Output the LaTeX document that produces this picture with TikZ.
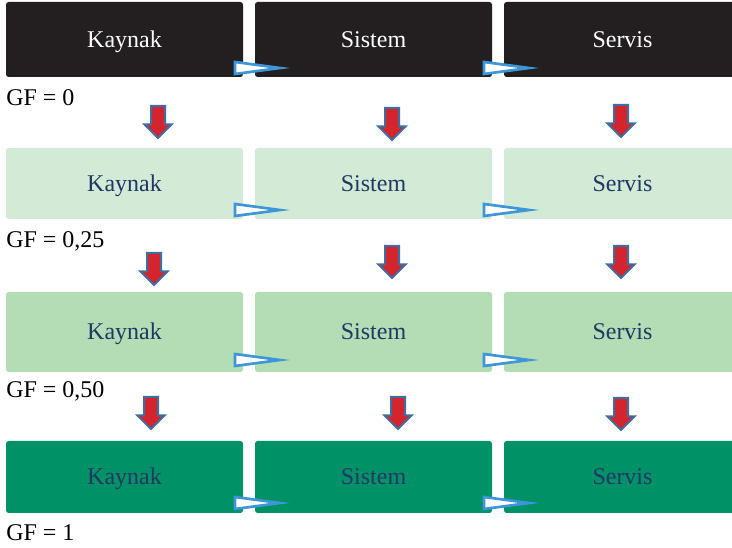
\documentclass[tikz,border=0pt]{standalone}
\usepackage{fontspec}
\setmainfont{Liberation Serif}
\usetikzlibrary{shapes.arrows, positioning}
\definecolor{night}{RGB}{35,31,32}
\definecolor{mint}{RGB}{211,234,214}
\definecolor{sage}{RGB}{181,221,181}
\definecolor{jade}{RGB}{0,145,103}
\definecolor{navy}{RGB}{31,56,100}
\definecolor{sky}{RGB}{60,150,215}
\definecolor{brick}{RGB}{212,36,46}
\definecolor{steel}{RGB}{62,110,160}
\def\txt{\fontsize{18}{21}\selectfont}
\tikzstyle{box} = [rectangle, rounded corners=2pt, inner sep=0pt, outer sep=0pt, minimum width=177.75pt, text height=11.9pt, text depth=0pt, font=\txt]
\tikzstyle{gf} = [anchor=base west, inner sep=0pt, font=\txt, text=black]
\tikzstyle{down} = [single arrow, shape border rotate=270, anchor=tail, draw=steel, line width=1.5pt, fill=brick, inner sep=4.5pt, minimum width=19.5pt, minimum height=24pt, single arrow head extend=5pt]
\tikzstyle{link} = [draw=sky, line width=2pt, fill=white]

\begin{document}
\begin{tikzpicture}[x=0.75pt, y=-0.75pt]
  \useasboundingbox (0,0) rectangle (732,548);

  \foreach \r/\y/\h/\c/\t/\o in {1/39.5/56.25pt/night/white/9, 2/183.5/53.25pt/mint/navy/9, 3/332/60pt/sage/navy/12, 4/477/54pt/jade/navy/10}{
    \node[box, fill=\c, text=\t, minimum height=\h] (k\r) at (124.5,\y) {Kaynak};
    \node[box, fill=\c, text=\t, minimum height=\h, right=9pt of k\r] (s\r) {Sistem};
    \node[box, fill=\c, text=\t, minimum height=\h, right=9pt of s\r] (v\r) {Servis};
    % small flow marks over the gaps
    \draw[link] ([shift={(-8,-\o-6)}]k\r.south east) -- ([shift={(25,-\o)}]s\r.south west) -- ([shift={(-8,-\o+6)}]k\r.south east) -- cycle;
    \draw[link] ([shift={(-8,-\o-6)}]s\r.south east) -- ([shift={(25,-\o)}]v\r.south west) -- ([shift={(-8,-\o+6)}]s\r.south east) -- cycle;
  }

  \foreach \y/\g in {106/0, 248/{0,25}, 398/{0,50}, 541/1}
    \node[gf] (gf\y) at (6,\y) {GF = \g};

  \foreach \x/\y/\n in {158/105/a1, 392/107/a2, 621/104/a3, 154/252/b1, 392/245/b2, 621/245/b3, 151/396/c1, 398/396/c2, 621/397/c3}
    \node[down] (\n) at (\x,\y) {};

\end{tikzpicture}
\end{document}
